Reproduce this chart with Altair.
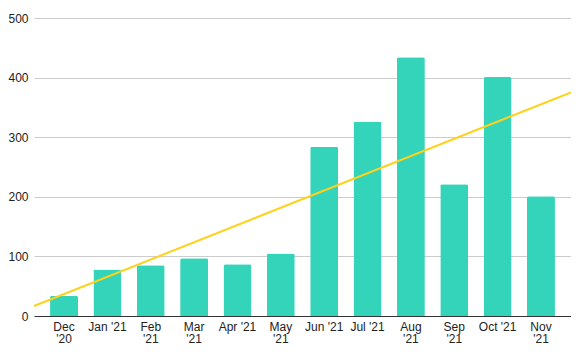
import altair as alt
import pandas as pd

months = ["Dec\n'20", "Jan '21", "Feb\n'21", "Mar\n'21", "Apr '21", "May\n'21",
          "Jun '21", "Jul '21", "Aug\n'21", "Sep\n'21", "Oct '21", "Nov\n'21"]
values = [34, 78, 85, 97, 87, 105, 284, 326, 434, 221, 401, 201]

df = pd.DataFrame({"month": months, "value": values, "idx": list(range(len(months)))})

PI = 0.355
PO = 0.37
EDGE = PO + (1 - PI) / 2
FONT = "Liberation Sans"

base = alt.Chart(df)

bars = base.mark_bar(color="#33d4b9", cornerRadiusTopLeft=2, cornerRadiusTopRight=2).encode(
    x=alt.X("month:N", sort=months, title=None,
            scale=alt.Scale(paddingInner=PI, paddingOuter=PO),
            axis=alt.Axis(labelAngle=0, labelExpr="split(datum.label, '\\n')",
                          labelLineHeight=12, labelPadding=5, ticks=False,
                          domain=True, domainColor="#333333", domainWidth=1,
                          labelFontSize=12, labelColor="#222222", labelFont=FONT, grid=False)),
    y=alt.Y("value:Q", title=None,
            scale=alt.Scale(domain=[0, 500], nice=False),
            axis=alt.Axis(values=[0, 100, 200, 300, 400, 500], grid=True, gridColor="#cccccc",
                          domain=False, ticks=False, labelPadding=6, labelFontSize=12,
                          labelColor="#222222", labelFont=FONT)),
)

trend = base.transform_regression("idx", "value", extent=[-EDGE, 11 + EDGE]).mark_line(
    color="#ffd11a", strokeWidth=2
).encode(
    x=alt.X("idx:Q", axis=None, scale=alt.Scale(domain=[-EDGE, 11 + EDGE], nice=False, zero=False)),
    y=alt.Y("value:Q"),
)

chart = alt.layer(bars, trend).resolve_scale(x="independent").properties(
    width=537, height=298,
    autosize=alt.AutoSizeParams(type="none"),
    padding={"left": 26, "top": 10, "right": 0, "bottom": 28},
).configure_view(stroke=None)

chart.save("out.html", embed_options={"renderer": "svg", "actions": False})
